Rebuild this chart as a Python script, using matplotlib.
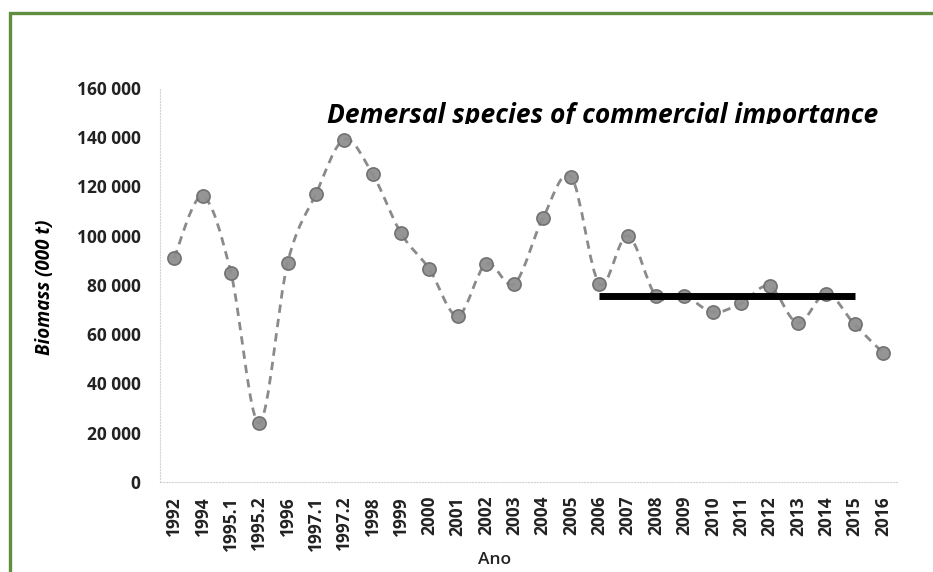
import numpy as np
import matplotlib
matplotlib.use('Agg')
import matplotlib.pyplot as plt
from matplotlib.path import Path
from matplotlib.patches import PathPatch, Rectangle
from matplotlib.transforms import Bbox, TransformedBbox
from matplotlib.ticker import FuncFormatter

plt.rcParams['font.family'] = ['Open Sans', 'DejaVu Sans']

years = ['1992', '1994', '1995.1', '1995.2', '1996', '1997.1', '1997.2', '1998',
         '1999', '2000', '2001', '2002', '2003', '2004', '2005', '2006', '2007',
         '2008', '2009', '2010', '2011', '2012', '2013', '2014', '2015', '2016']
biomass = [91000, 116000, 85000, 24000, 89000, 117000, 139000, 125000,
           101000, 86500, 67500, 88500, 80500, 107000, 124000, 80500, 100000,
           75500, 75500, 69000, 72500, 79500, 64500, 76500, 64000, 52500]
# reference (mean) line over 2006-2015
ref_start, ref_end = '2006', '2015'
ref_value = 75500

fig = plt.figure(figsize=(9.33, 5.72), dpi=100)
ax = fig.add_axes([0.1715, 0.1573, 0.79, 0.689])

x = np.arange(len(biomass))
y = np.array(biomass, dtype=float)

# smoothed dashed curve (Catmull-Rom as cubic Bezier, like Excel's smoothed line)
pts = np.column_stack([x, y])
verts = [pts[0]]
codes = [Path.MOVETO]
for i in range(len(pts) - 1):
    p0 = pts[max(i - 1, 0)]
    p1 = pts[i]
    p2 = pts[i + 1]
    p3 = pts[min(i + 2, len(pts) - 1)]
    verts += [p1 + (p2 - p0) / 6, p2 - (p3 - p1) / 6, p2]
    codes += [Path.CURVE4] * 3
curve = PathPatch(Path(verts, codes), fill=False, edgecolor='#8a8a8a', lw=2.0,
                  linestyle=(0, (3, 2.2)), zorder=2)
ax.add_patch(curve)
ax.plot(x, y, 'o', ms=9.5, mfc='#8f8f8f', mec='#6e6e6e', mew=1.2, alpha=0.95, zorder=3)

i0, i1 = years.index(ref_start), years.index(ref_end)
ax.plot([i0, i1], [ref_value, ref_value], color='black', lw=5, solid_capstyle='butt', zorder=4)

ax.set_xlim(-0.5, len(years) - 0.5)
ax.set_ylim(0, 160000)
ax.set_xticks(x)
ax.set_xticklabels(years, rotation=90, fontsize=12.5, fontweight='bold', color='#222222')
ax.set_yticks(np.arange(0, 160001, 20000))
ax.yaxis.set_major_formatter(FuncFormatter(lambda v, p: f'{int(v):,}'.replace(',', ' ')))
for lab in ax.get_yticklabels():
    lab.set_fontsize(12.5)
    lab.set_fontweight('bold')
    lab.set_color('#222222')
ax.tick_params(length=0, pad=14)
ax.tick_params(axis='x', pad=10)
for s in ['top', 'right']:
    ax.spines[s].set_visible(False)
ax.spines['left'].set_color('#d4d4d4')
ax.spines['left'].set_linestyle(':')
ax.spines['bottom'].set_color('#d4d4d4')
ax.spines['bottom'].set_linestyle(':')

ax.set_xlabel('Ano', fontsize=12.5, fontweight='semibold', color='#222222')
ax.xaxis.set_label_coords((495 - 161) / 735, -(560 - 482) / 394, transform=ax.transAxes)
ax.xaxis.label.set_va('center')
fig.text(0.048, 0.498, 'Biomass (000 t)', rotation=90, ha='center', va='center',
         fontsize=13.5, fontweight='bold', fontstyle='italic')

title = fig.text(602.5 / 933, 1 - 123 / 572, 'Demersal species of commercial importance',
                 ha='center', va='baseline', fontsize=19, fontweight='bold',
                 fontstyle='italic')
title.set_clip_box(TransformedBbox(Bbox([[0, 1 - 124 / 572], [1, 1]]), fig.transFigure))
title.set_clip_on(True)

# green frame
fig.patches.append(Rectangle((10 / 933, -0.2), 1.2, 1.2 - 13 / 572,
                             transform=fig.transFigure, fill=False,
                             edgecolor='#5e8e3e', lw=2.4, clip_on=False))

fig.savefig('out.png', dpi=100, facecolor='white')
